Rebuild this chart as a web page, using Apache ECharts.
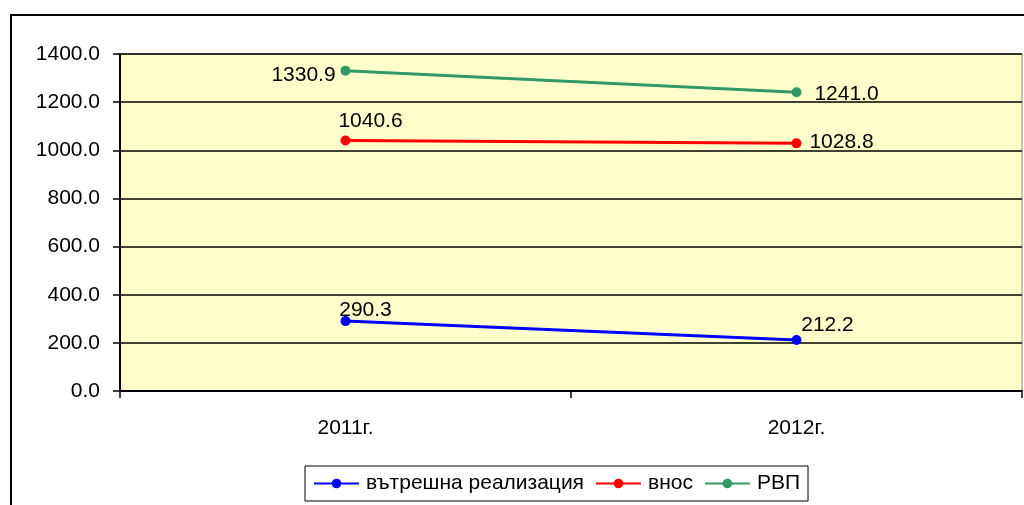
<!DOCTYPE html>
<html lang="bg">
<head>
  <meta charset="UTF-8">
  <title>Chart</title>
  <style>
    html, body { margin: 0; padding: 0; background: #fff; }
    #chart { width: 1024px; height: 505px; }
  </style>
</head>
<body>
<div id="chart"></div>
<script src="https://cdn.jsdelivr.net/npm/echarts@6/dist/echarts.min.js"></script>
<script>
  var years = ['2011г.', '2012г.']
  var domestic = [290.3, 212.2]
  var imports = [1040.6, 1028.8]
  var rvp = [1330.9, 1241.0]

  var font = 'Liberation Sans, Arial, sans-serif'
  var chart = echarts.init(document.getElementById('chart'), null, { renderer: 'canvas' })

  // label placement relative to each point (text centre)
  function withLabels(values, offsets) {
    return values.map(function (v, i) {
      return { value: v, label: { offset: offsets[i] } }
    })
  }

  var baseLabel = {
    show: true,
    position: 'inside',
    color: '#000',
    fontFamily: font,
    fontSize: 21,
    formatter: function (p) { return p.value.toFixed(1) }
  }

  var option = {
    animation: false,
    graphic: [{
      type: 'rect',
      shape: { x: 11, y: 15, width: 1200, height: 700 },
      style: { fill: null, stroke: '#000', lineWidth: 2 },
      silent: true
    }],
    grid: {
      left: 120, right: 2, top: 54, bottom: 114,
      show: true,
      backgroundColor: '#FFFFCC',
      borderColor: '#888',
      borderWidth: 1
    },
    legend: {
      left: 305, top: 466,
      padding: [7, 8, 7, 8],
      itemGap: 11,
      itemWidth: 45, itemHeight: 12,
      borderColor: '#000', borderWidth: 1,
      backgroundColor: '#fff',
      textStyle: { fontFamily: font, fontSize: 21, color: '#000', padding: [0, 0, 0, 2] },
      data: ['вътрешна реализация', 'внос', 'РВП']
    },
    xAxis: {
      type: 'category',
      data: years,
      boundaryGap: true,
      axisLine: { lineStyle: { color: '#000', width: 2 } },
      axisTick: { show: true, length: 7, inside: false, lineStyle: { color: '#000', width: 1.5 } },
      axisLabel: { color: '#000', fontFamily: font, fontSize: 21, margin: 27 }
    },
    yAxis: {
      type: 'value',
      min: 0, max: 1400, interval: 200,
      axisLine: { show: true, lineStyle: { color: '#000', width: 2 } },
      axisTick: { show: true, length: 7, lineStyle: { color: '#000', width: 1.5 } },
      axisLabel: {
        color: '#000', fontFamily: font, fontSize: 21, margin: 20,
        formatter: function (v) { return v.toFixed(1) }
      },
      splitLine: { lineStyle: { color: '#000', width: 1.5 } }
    },
    series: [
      {
        name: 'вътрешна реализация', type: 'line',
        data: withLabels(domestic, [[20, -11], [31, -15]]),
        color: '#0000FF', symbol: 'circle', symbolSize: 10,
        lineStyle: { width: 3 },
        label: baseLabel
      },
      {
        name: 'внос', type: 'line',
        data: withLabels(imports, [[25, -19], [45, -1]]),
        color: '#FF0000', symbol: 'circle', symbolSize: 10,
        lineStyle: { width: 3 },
        label: baseLabel
      },
      {
        name: 'РВП', type: 'line',
        data: withLabels(rvp, [[-42, 5], [50, 2]]),
        color: '#339966', symbol: 'circle', symbolSize: 10,
        lineStyle: { width: 3 },
        label: baseLabel
      }
    ]
  }

  chart.setOption(option)
  window.addEventListener('resize', chart.resize)
</script>
</body>
</html>
